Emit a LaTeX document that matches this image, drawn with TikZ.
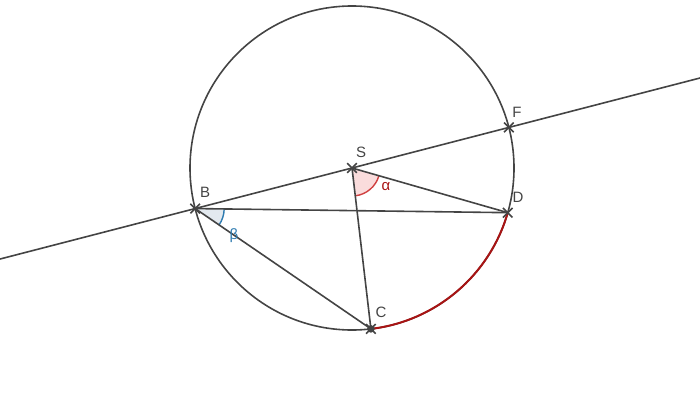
\documentclass[tikz,border=0pt]{standalone}
\usepackage{fontspec}
\setmainfont{Liberation Sans}
\usetikzlibrary{calc,angles,shapes.misc}
\definecolor{ln}{HTML}{444444}
\definecolor{arcred}{HTML}{A81414}
\definecolor{alphared}{HTML}{D04040}
\definecolor{alphafill}{HTML}{FADCDC}
\definecolor{betablue}{HTML}{2E7BB0}
\definecolor{betafill}{HTML}{E3E9EF}
\tikzset{
  seg/.style={draw=ln, line width=1.6pt},
  ptmark/.style={cross out, draw=ln, line width=1.6pt, minimum size=8pt, inner sep=0pt},
  lbl/.style={text=ln, font=\fontsize{15}{17}\selectfont, inner sep=0pt},
}
\begin{document}
\begin{tikzpicture}[x=1pt,y=1pt]
\useasboundingbox (0,0) rectangle (700,400);
\clip (0,0) rectangle (700,400);
\coordinate (S) at (352,232);
\coordinate (B) at ($(S)+(194.5:162)$);
\coordinate (F) at ($(S)+(14.5:162)$);
\coordinate (D) at ($(S)+(-16:162)$);
\coordinate (C) at ($(S)+(-83.3:162)$);
% circle
\draw[seg] (S) circle[radius=162];
% long line through B, S, F
\draw[seg] ($(B)!-2!(F)$) -- ($(F)!-2!(B)$);
% angles
\pic[draw=alphared, fill=alphafill, line width=1.4pt, angle radius=28] {angle = C--S--D};
\pic[draw=betablue, fill=betafill, line width=1.4pt, angle radius=29] {angle = C--B--D};
% segments
\draw[seg] (B) -- (D);
\draw[seg] (B) -- (C);
\draw[seg] (S) -- (D);
\draw[seg] (S) -- (C);
% red arc
\draw[draw=arcred, line width=2pt] (C) arc[start angle=-83.3, end angle=-16, radius=162];
% points
\node[ptmark] (pS) at (S) {};
\node[ptmark] (pB) at (B) {};
\node[ptmark] (pF) at (F) {};
\node[ptmark] (pD) at (D) {};
\fill[ln] (C) circle[radius=3.8];
\node[ptmark] (pC) at (C) {};
% labels
\node[lbl] (lS) at (361,248) {S};
\node[lbl] (lB) at (205,208) {B};
\node[lbl] (lF) at (517,288) {F};
\node[lbl] (lD) at (518,203) {D};
\node[lbl] (lC) at (381,88) {C};
\node[lbl, text=arcred] (la) at (386,213) {α};
\node[lbl, text=betablue] (lb) at (234,164) {β};
\end{tikzpicture}
\end{document}
